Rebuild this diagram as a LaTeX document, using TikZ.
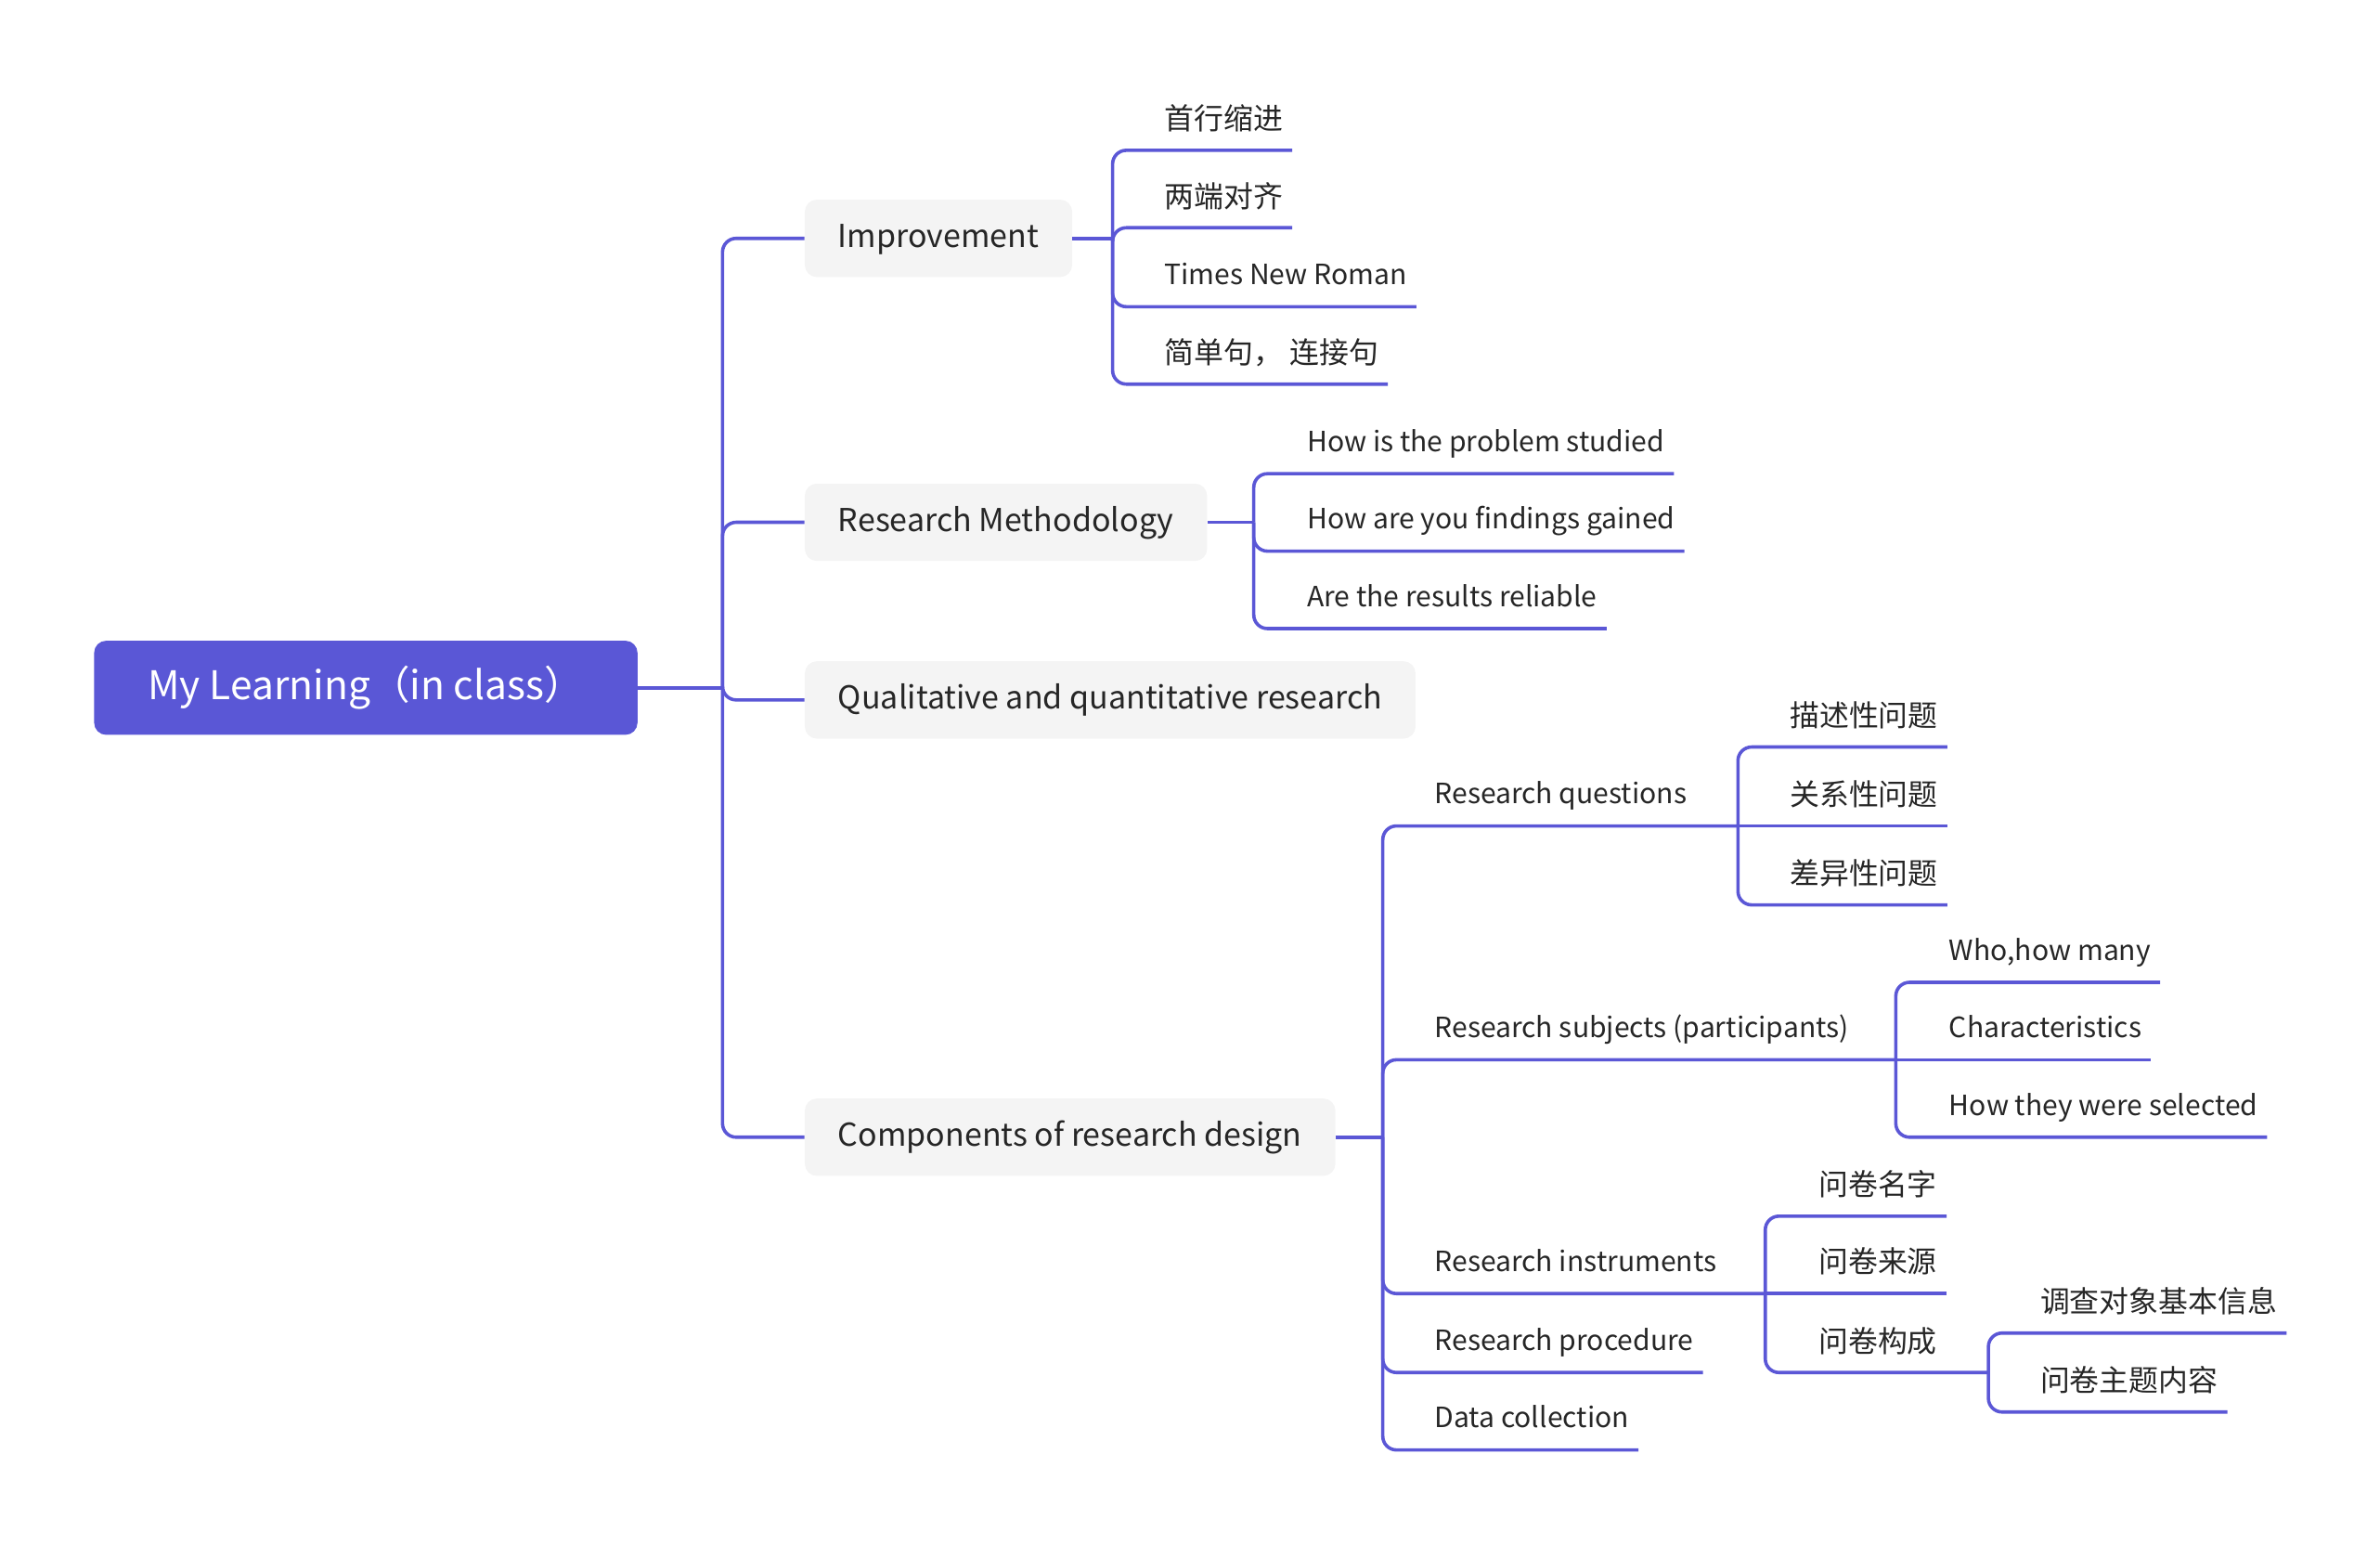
\documentclass[tikz,border=0pt]{standalone}
\usepackage{fontspec}
\setmainfont{Noto Sans CJK SC}
\definecolor{linecol}{HTML}{5B57D6}
\definecolor{rootfill}{HTML}{5A57D6}
\definecolor{boxfill}{HTML}{F4F4F4}
\definecolor{txt}{HTML}{262626}

\begin{document}
\begin{tikzpicture}[x=1pt,y=1pt,yscale=-1
  ,rootbox/.style={fill=rootfill,rounded corners=8pt,text=white,font=\fontsize{26}{30}\selectfont,text height=20pt,text depth=4.8pt,minimum height=62pt,minimum width=358pt,inner sep=0pt}
  ,mainbox/.style={fill=boxfill,rounded corners=8pt,text=txt,font=\fontsize{20.8}{25}\selectfont,text height=16.6pt,text depth=4.6pt,minimum height=51pt,inner xsep=22pt,anchor=west}
  ,leaf/.style={text=txt,font=\fontsize{18.4}{22}\selectfont,inner xsep=0pt,inner ysep=10pt,text height=14pt,text depth=4.3pt,anchor=south west}
  ,zh/.style={font=\fontsize{19.5}{23}\selectfont,text depth=3.4pt}
  ,link/.style={draw=linecol,line width=2.2pt,rounded corners=9pt}
]
\useasboundingbox (0,0) rectangle (1568,1017.6);

% --- Root ---
\node[rootbox] (root) at (241,453) {My Learning（in class）};
\coordinate (rootj) at (476,453);
\draw[link] (root.east) -- (rootj);

% --- Main topics ---
\node[mainbox] (imp) at (530,157) {Improvement};
\node[mainbox] (meth) at (530,344) {Research Methodology};
\node[mainbox] (qual) at (530,461) {Qualitative and quantitative research};
\node[mainbox] (comp) at (530,749) {Components of research design};

\draw[link] (rootj) |- (imp.west);
\draw[link] (rootj) |- (meth.west);
\draw[link] (rootj) |- (qual.west);
\draw[link] (rootj) |- (comp.west);

% --- Improvement ---
\coordinate (impj) at (733,157);
\draw[link] (imp.east) -- (impj);
\node[leaf,zh] (imp1) at (767,99) {首行缩进};
\node[leaf,zh] (imp2) at (767,150) {两端对齐};
\node[leaf] (imp3) at (767,202) {Times New Roman};
\node[leaf,zh] (imp4) at (767,253) {简单句， 连接句};
\draw[link] (impj) |- (imp1.south west) -- ([xshift=6pt]imp1.south east);
\draw[link] (impj) |- (imp2.south west) -- ([xshift=6pt]imp2.south east);
\draw[link] (impj) |- (imp3.south west) -- ([xshift=6pt]imp3.south east);
\draw[link] (impj) |- (imp4.south west) -- ([xshift=6pt]imp4.south east);

% --- Research Methodology ---
\coordinate (methj) at (826,344);
\draw[link] (meth.east) -- (methj);
\node[leaf] (meth1) at (861,312) {How is the problem studied};
\node[leaf] (meth2) at (861,363) {How are you findings gained};
\node[leaf] (meth3) at (861,414) {Are the results reliable};
\draw[link] (methj) |- (meth1.south west) -- ([xshift=6pt]meth1.south east);
\draw[link] (methj) |- (meth2.south west) -- ([xshift=6pt]meth2.south east);
\draw[link] (methj) |- (meth3.south west) -- ([xshift=6pt]meth3.south east);

% --- Components of research design ---
\coordinate (compj) at (911,749);
\draw[link] (comp.east) -- (compj);
\node[leaf] (rq) at (945,544) {Research questions};
\node[leaf] (rs) at (945,698) {Research subjects (participants)};
\node[leaf] (ri) at (945,852) {Research instruments};
\node[leaf] (rp) at (945,904) {Research procedure};
\node[leaf] (dc) at (945,955) {Data collection};
\coordinate (rqj) at (1145,544);
\coordinate (rsj) at (1249,698);
\coordinate (rij) at (1163,852);
\draw[link] (compj) |- (rq.south west) -- (rqj);
\draw[link] (compj) |- (rs.south west) -- (rsj);
\draw[link] (compj) |- (ri.south west) -- (rij);
\draw[link] (compj) |- (rp.south west) -- ([xshift=6pt]rp.south east);
\draw[link] (compj) |- (dc.south west) -- ([xshift=6pt]dc.south east);

% research questions
\node[leaf,zh] (rq1) at (1179,492) {描述性问题};
\node[leaf,zh] (rq2) at (1179,544) {关系性问题};
\node[leaf,zh] (rq3) at (1179,596) {差异性问题};
\draw[link] (rqj) |- (rq1.south west) -- ([xshift=6pt]rq1.south east);
\draw[link] (rqj) -- (rq2.south west) -- ([xshift=6pt]rq2.south east);
\draw[link] (rqj) |- (rq3.south west) -- ([xshift=6pt]rq3.south east);

% research subjects
\node[leaf] (rs1) at (1284,647) {Who,how many};
\node[leaf] (rs2) at (1284,698) {Characteristics};
\node[leaf] (rs3) at (1284,749) {How they were selected};
\draw[link] (rsj) |- (rs1.south west) -- ([xshift=6pt]rs1.south east);
\draw[link] (rsj) -- (rs2.south west) -- ([xshift=6pt]rs2.south east);
\draw[link] (rsj) |- (rs3.south west) -- ([xshift=6pt]rs3.south east);

% research instruments
\node[leaf,zh] (ri1) at (1198,801) {问卷名字};
\node[leaf,zh] (ri2) at (1198,852) {问卷来源};
\node[leaf,zh] (ri3) at (1198,904) {问卷构成};
\coordinate (ri3j) at (1310,904);
\draw[link] (rij) |- (ri1.south west) -- ([xshift=6pt]ri1.south east);
\draw[link] (rij) -- (ri2.south west) -- ([xshift=6pt]ri2.south east);
\draw[link] (rij) |- (ri3.south west) -- (ri3j);
\node[leaf,zh] (ri31) at (1344,878) {调查对象基本信息};
\node[leaf,zh] (ri32) at (1344,930) {问卷主题内容};
\draw[link] (ri3j) |- (ri31.south west) -- ([xshift=6pt]ri31.south east);
\draw[link] (ri3j) |- (ri32.south west) -- ([xshift=6pt]ri32.south east);

\end{tikzpicture}
\end{document}
